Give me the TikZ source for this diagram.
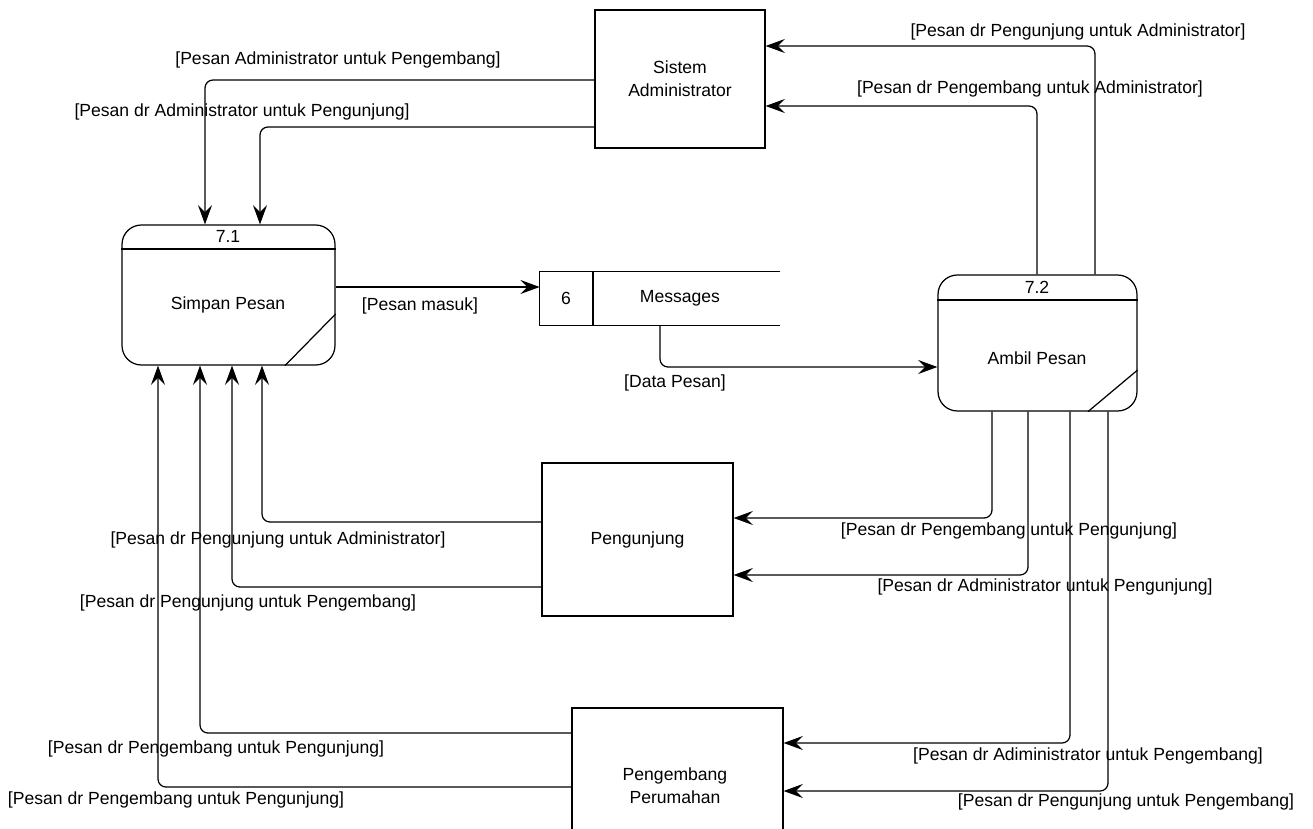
\documentclass[tikz,border=0pt]{standalone}
\usepackage{fontspec}
\setmainfont{Liberation Sans}
\usetikzlibrary{arrows.meta}
\tikzset{
  ln/.style={line width=0.7pt},
  flow/.style={ln, rounded corners=4.5pt, -{Stealth[length=11pt,width=8pt,inset=4pt]}},
  ext/.style={ln, draw, rectangle, inner sep=0pt, align=center},
  proc/.style={ln, draw, rectangle, rounded corners=11pt, inner sep=0pt},
  lbl/.style={inner sep=1pt, font=\fontsize{10}{12}\selectfont},
  txt/.style={inner sep=1pt, align=center, font=\fontsize{10}{12}\selectfont}
}
\begin{document}
\begin{tikzpicture}[x=0.02cm,y=-0.02cm]
\useasboundingbox (0,0) rectangle (1313,829);
% external entities
\node[ext, minimum width=3.4cm, minimum height=2.76cm, font=\fontsize{10}{13}\selectfont] (sa) at (680,79) {Sistem\\Administrator};
\node[ext, minimum width=3.82cm, minimum height=3.06cm, font=\fontsize{10}{12}\selectfont] (pg) at (637.5,539.5) {Pengunjung};
\node[ext, minimum width=4.22cm, minimum height=3.12cm] (pp) at (677.5,786) {};
\node[txt, font=\fontsize{10}{13}\selectfont] (ppt) at (675,786) {Pengembang\\Perumahan};
% processes
\node[proc, minimum width=4.26cm, minimum height=2.8cm] (p71) at (228.5,295) {};
\draw[ln] (p71.west |- 0,249) -- (p71.east |- 0,249);
\draw[ln] (p71.south -| 285,0) -- (p71.east |- 0,314);
\node[txt] (p71n) at (228,236) {7.1};
\node[txt] (p71t) at (228,305) {Simpan Pesan};
\node[proc, minimum width=3.98cm, minimum height=2.72cm] (p72) at (1037.5,343) {};
\draw[ln] (p72.west |- 0,300) -- (p72.east |- 0,300);
\draw[ln] (p72.south -| 1088,0) -- (p72.east |- 0,370);
\node[txt] (p72n) at (1037,287) {7.2};
\node[txt] (p72t) at (1037,358) {Ambil Pesan};
% data store
\node[inner sep=0pt, minimum width=4.8cm, minimum height=1.06cm] (ds) at (660,298.5) {};
\draw[ln] (ds.north east) -- (ds.north west) -- (ds.south west) -- (ds.south east);
\draw[ln] (ds.north -| 593,0) -- (ds.south -| 593,0);
\node[txt] (dsn) at (566,298) {6};
\node[txt] (dst) at (680,298) {Messages};
% flows
\draw[flow] (sa.west |- 0,80) -| (p71.north -| 205,0);
\node[lbl] (l1) at (338,60) {[Pesan Administrator untuk Pengembang]};
\draw[flow] (sa.west |- 0,127) -| (p71.north -| 260,0);
\node[lbl] (l2) at (242,112) {[Pesan dr Administrator untuk Pengunjung]};
\draw[flow] (p72.north -| 1095,0) |- (sa.east |- 0,46);
\node[lbl] (l3) at (1078,32) {[Pesan dr Pengunjung untuk Administrator]};
\draw[flow] (p72.north -| 1037,0) |- (sa.east |- 0,106);
\node[lbl] (l4) at (1030,89) {[Pesan dr Pengembang untuk Administrator]};
\draw[flow] (p71.east |- 0,287) -- (ds.west |- 0,287);
\node[lbl] (l5) at (420,306) {[Pesan masuk]};
\draw[flow] (ds.south -| 660,0) |- (p72.west |- 0,367);
\node[lbl] (l6) at (675,383) {[Data Pesan]};
\draw[flow] (p72.south -| 992,0) |- (pg.east |- 0,518);
\node[lbl] (l7) at (1009,531) {[Pesan dr Pengembang untuk Pengunjung]};
\draw[flow] (p72.south -| 1028,0) |- (pg.east |- 0,575);
\node[lbl] (l8) at (1045,587) {[Pesan dr Administrator untuk Pengunjung]};
\draw[flow] (p72.south -| 1070,0) |- (pp.east |- 0,743);
\node[lbl] (l9) at (1088,756) {[Pesan dr Adiministrator untuk Pengembang]};
\draw[flow] (p72.south -| 1108,0) |- (pp.east |- 0,791);
\node[lbl] (l10) at (1126,802) {[Pesan dr Pengunjung untuk Pengembang]};
\draw[flow] (pg.west |- 0,522) -| (p71.south -| 262,0);
\node[lbl] (l11) at (278,540) {[Pesan dr Pengunjung untuk Administrator]};
\draw[flow] (pg.west |- 0,587) -| (p71.south -| 232,0);
\node[lbl] (l12) at (248,603) {[Pesan dr Pengunjung untuk Pengembang]};
\draw[flow] (pp.west |- 0,733) -| (p71.south -| 200,0);
\node[lbl] (l13) at (216,749) {[Pesan dr Pengembang untuk Pengunjung]};
\draw[flow] (pp.west |- 0,787) -| (p71.south -| 158,0);
\node[lbl] (l14) at (176,800) {[Pesan dr Pengembang untuk Pengunjung]};
\end{tikzpicture}
\end{document}
